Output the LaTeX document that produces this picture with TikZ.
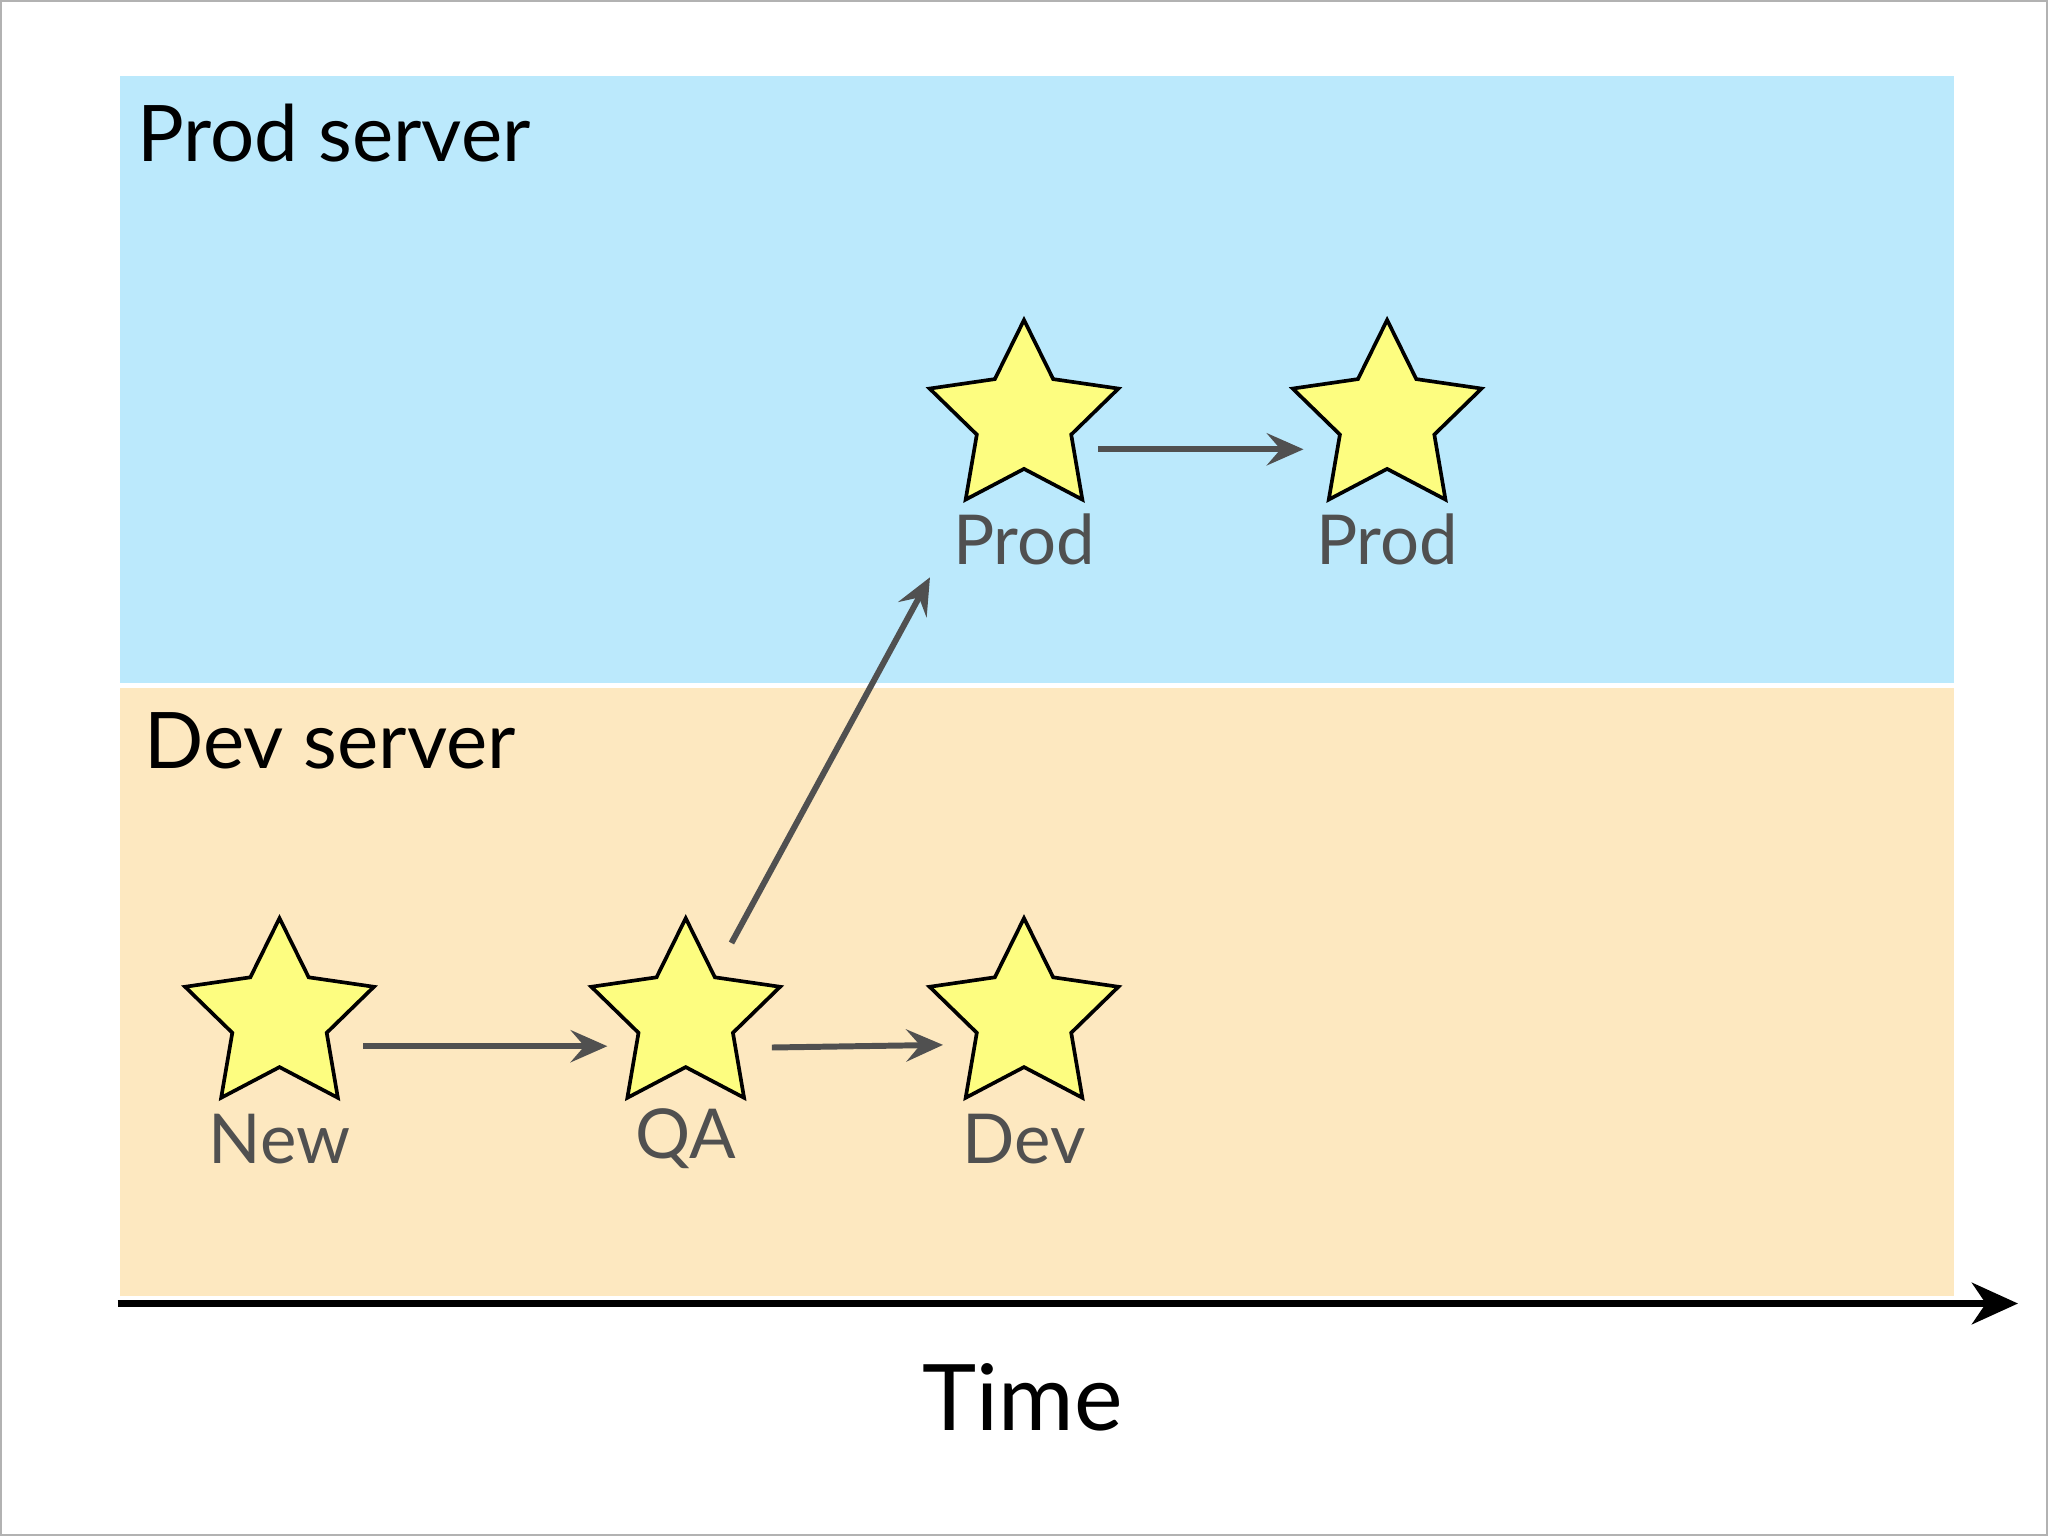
\documentclass[tikz,border=0pt]{standalone}
\usepackage{fontspec}
\setmainfont{Lato}
\usetikzlibrary{shapes.geometric,arrows.meta,positioning}
\definecolor{prodbg}{HTML}{BBE9FC}
\definecolor{devbg}{HTML}{FDE8C0}
\definecolor{starfill}{HTML}{FDFD80}
\definecolor{arrgray}{HTML}{505050}
\begin{document}
\begin{tikzpicture}[
    y=-1cm,
    stage/.style={star, star points=5, star point ratio=2.0, draw, thick, fill=starfill, minimum size=1.52cm, inner sep=0pt},
    label/.style={text=arrgray, font=\fontsize{15}{18}\selectfont},
    arrow/.style={draw=arrgray, line width=1.3pt, -{Stealth[length=8pt,width=7pt,inset=3pt]}}
]
\useasboundingbox (0,0) rectangle (15.68,11.76);
\draw[gray!60] (0.01,0.01) rectangle (15.67,11.75);

% Server areas
\fill[prodbg] (0.92,0.58) rectangle (14.96,5.23);
\fill[devbg] (0.92,5.27) rectangle (14.96,9.92);
\node[anchor=west, font=\fontsize{17}{20}\selectfont] (prodsrv) at (0.93,1.02) {Prod server};
\node[anchor=west, font=\fontsize{17}{20}\selectfont] (devsrv) at (0.98,5.67) {Dev server};

% Stars
\node[stage] (new) at (2.14,7.79) {};
\node[stage] (qa) at (5.25,7.79) {};
\node[stage] (dev) at (7.84,7.79) {};
\node[stage] (prod) at (7.84,3.21) {};
\node[stage] (prodnext) at (10.62,3.21) {};

% Labels below stars
\node[label] (newlbl) at (2.14,8.72) {New};
\node[label] (qalbl) at (5.25,8.72) {QA};
\node[label] (devlbl) at (7.84,8.72) {Dev};
\node[label] (prodlbl) at (7.84,4.13) {Prod};
\node[label] (prodnextlbl) at (10.62,4.13) {Prod};

% Arrows
\draw[arrow] ([xshift=0.64cm,yshift=-0.22cm]new.center) -- ([xshift=-0.6cm,yshift=-0.22cm]qa.center);
\draw[arrow] ([xshift=0.66cm,yshift=-0.23cm]qa.center) -- ([xshift=-0.62cm,yshift=-0.21cm]dev.center);
\draw[arrow] ([xshift=0.35cm,yshift=0.57cm]qa.center) -- ([xshift=-0.72cm,yshift=-1.21cm]prod.center);
\draw[arrow] ([xshift=0.57cm,yshift=-0.23cm]prod.center) -- ([xshift=-0.64cm,yshift=-0.23cm]prodnext.center);

% Time axis
\coordinate (tstart) at (0.9,9.98);
\coordinate (tend) at (15.45,9.98);
\draw[line width=1.6pt, -{Stealth[length=10pt,width=9pt,inset=3pt]}] (tstart) -- (tend);
\node[font=\fontsize{20}{24}\selectfont] (time) at (7.83,10.7) {Time};
\end{tikzpicture}
\end{document}
